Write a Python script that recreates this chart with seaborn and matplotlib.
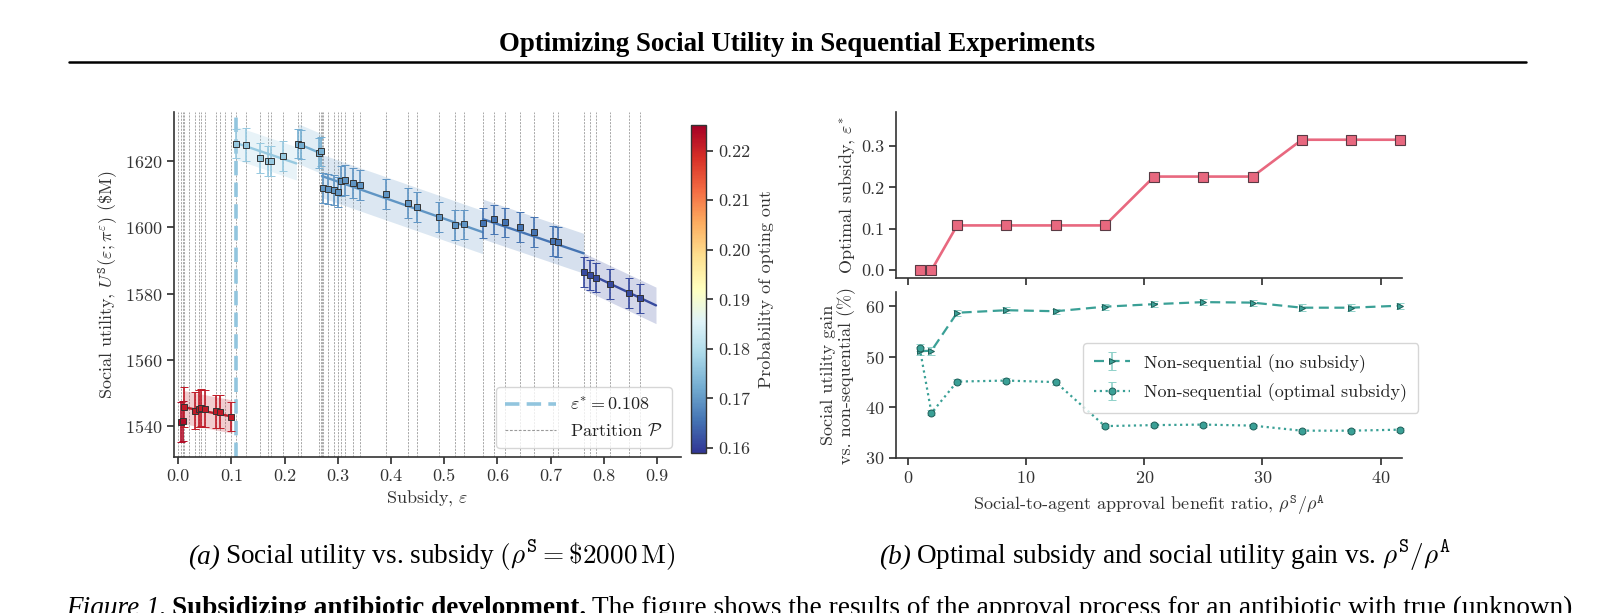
import numpy as np
import pandas as pd
import matplotlib
matplotlib.use("Agg")
import matplotlib.pyplot as plt
import seaborn as sns
from matplotlib.lines import Line2D
from matplotlib.colors import Normalize
from matplotlib.cm import ScalarMappable
from matplotlib.ticker import FormatStrFormatter

# ---------------- data: panel (a) ----------------
seg_x = [
    [0.0045, 0.0094],
    [0.011, 0.031, 0.039, 0.043, 0.051, 0.071, 0.078, 0.099],
    [0.108, 0.127, 0.153, 0.168, 0.174, 0.196],
    [0.226, 0.230, 0.265, 0.269],
    [0.273, 0.282, 0.292, 0.301, 0.306, 0.313, 0.328, 0.342, 0.391, 0.432, 0.448, 0.490, 0.521, 0.538],
    [0.573, 0.594, 0.615, 0.642, 0.668, 0.705, 0.714],
    [0.762, 0.774, 0.786, 0.811, 0.847, 0.868],
]
seg_y = [
    [1541.3, 1541.7],
    [1545.8, 1544.8, 1545.4, 1545.7, 1545.4, 1544.6, 1544.4, 1543.0],
    [1625.3, 1624.9, 1621.0, 1620.1, 1620.1, 1621.5],
    [1625.3, 1625.0, 1622.4, 1622.9],
    [1611.9, 1611.7, 1611.4, 1610.8, 1613.9, 1614.4, 1613.5, 1612.7, 1610.1, 1607.3, 1606.1, 1603.2, 1600.8, 1600.9],
    [1601.4, 1602.4, 1601.5, 1600.1, 1598.6, 1596.0, 1595.5],
    [1586.5, 1585.7, 1584.9, 1583.0, 1580.2, 1578.6],
]
seg_err = [
    [6.0, 6.0],
    [6.0, 5.5, 5.5, 5.5, 5.5, 5.0, 5.0, 4.5],
    [4.5, 5.0, 4.5, 4.5, 4.5, 4.5],
    [4.5, 4.5, 4.5, 4.5],
    [4.5, 4.5, 4.5, 4.5, 4.5, 4.5, 4.5, 4.5, 4.5, 4.5, 4.5, 4.5, 4.5, 4.5],
    [4.5, 4.5, 4.5, 4.5, 4.5, 4.5, 4.5],
    [4.5, 4.5, 4.5, 4.5, 4.5, 4.5],
]
seg_prob = [0.2235, 0.2215, 0.1765, 0.1725, 0.1695, 0.1655, 0.1612]
seg_line_x = [(0.0045, 0.0094), (0.011, 0.101), (0.108, 0.222), (0.226, 0.270),
              (0.270, 0.572), (0.573, 0.762), (0.762, 0.898)]
seg_line_y = [(1541.3, 1541.7), (1545.8, 1543.0), (1625.5, 1619.3), (1625.2, 1622.2),
              (1615.5, 1598.6), (1602.5, 1592.2), (1586.8, 1576.5)]
seg_band = [0.0, 5.0, 5.0, 6.0, 6.5, 6.0, 5.5]
extra_partitions = [0.0, 0.020, 0.087, 0.270]
eps_star = 0.108
prob_min, prob_max = 0.159, 0.2252

# ---------------- data: panel (b) ----------------
ratio = [1.0, 2.0, 4.17, 8.33, 12.5, 16.67, 20.83, 25.0, 29.17, 33.33, 37.5, 41.67]
opt_subsidy = [0.0, 0.0, 0.108, 0.108, 0.108, 0.108, 0.226, 0.226, 0.226, 0.315, 0.315, 0.315]
gain_nosub = [51.1, 51.2, 58.7, 59.2, 59.0, 59.9, 60.4, 60.8, 60.7, 59.7, 59.7, 60.1]
gain_nosub_err = [0.8, 0.8, 0.6, 0.6, 0.5, 0.6, 0.6, 0.6, 0.6, 0.7, 0.7, 0.6]
gain_optsub = [51.8, 38.9, 45.1, 45.3, 45.0, 36.3, 36.5, 36.6, 36.4, 35.4, 35.4, 35.6]
gain_optsub_err = [0.7, 0.5, 0.5, 0.5, 0.5, 0.4, 0.4, 0.4, 0.4, 0.4, 0.4, 0.4]

# ---------------- style ----------------
sns.set_theme(style="ticks")
plt.rcParams.update({
    "font.family": ["cmr10", "DejaVu Serif"],
    "mathtext.fontset": "cm",
    "axes.formatter.use_mathtext": True,
    "axes.unicode_minus": False,
    "font.size": 13,
    "axes.labelsize": 13,
    "xtick.labelsize": 13,
    "ytick.labelsize": 13,
    "legend.fontsize": 13,
    "axes.edgecolor": "#333333",
    "axes.linewidth": 1.2,
    "xtick.color": "#333333",
    "ytick.color": "#333333",
    "axes.labelcolor": "#333333",
    "text.color": "#222222",
    "xtick.major.size": 5,
    "ytick.major.size": 5,
})

W, H = 1603, 613
fig = plt.figure(figsize=(W / 100, H / 100), dpi=100)


def px_axes(x0, y0, x1, y1):
    return fig.add_axes([x0 / W, 1 - y1 / H, (x1 - x0) / W, (y1 - y0) / H])


ax = px_axes(174, 112, 681, 457)
cax = px_axes(691, 125, 706, 453)
ax_t = px_axes(896, 112, 1402, 278)
ax_b = px_axes(896, 292, 1402, 458)

cmap = plt.get_cmap("RdYlBu_r")
norm = Normalize(prob_min, prob_max)

# ---------------- panel (a) ----------------
all_x = sorted(set([v for s in seg_x for v in s] + extra_partitions))
for xv in all_x:
    ax.axvline(xv, color="#9a9a9a", lw=0.6, ls=(0, (2.5, 1.5)), zorder=0.5)

for xs, ys, es, p, lx, ly, hw in zip(seg_x, seg_y, seg_err, seg_prob, seg_line_x, seg_line_y, seg_band):
    c = cmap(norm(p))
    if hw > 0:
        lx_arr = np.array(lx)
        ly_arr = np.array(ly)
        ax.fill_between(lx_arr, ly_arr - hw, ly_arr + hw, color=c, alpha=0.22, lw=0, zorder=1)
    sns.lineplot(x=list(lx), y=list(ly), ax=ax, color=c, lw=1.7, zorder=2)
    ax.errorbar(xs, ys, yerr=es, fmt="s", ms=4.3, mfc=c, mec="#333333", mew=0.7,
                ecolor=c, elinewidth=1.2, capsize=3, capthick=1.0, zorder=3)

ax.axvline(eps_star, color="#92c5de", lw=2.6, ls=(0, (4, 2)), zorder=2.5)
ax.set_xlim(-0.008, 0.945)
ax.set_ylim(1530.8, 1634.8)
ax.set_xticks(np.arange(0, 0.91, 0.1))
ax.xaxis.set_major_formatter(FormatStrFormatter("%.1f"))
ax.set_yticks([1540, 1560, 1580, 1600, 1620])
sns.despine(ax=ax)
ax.set_xlabel(r"Subsidy, $\varepsilon$", labelpad=3)
ax.set_ylabel(r"Social utility, $U^{\mathtt{S}}(\varepsilon;\pi^{\varepsilon})$ ($\$$M)")
ax.yaxis.set_label_coords(-0.107, 0.5)
leg_handles = [
    Line2D([], [], color="#92c5de", lw=2.6, ls=(0, (4, 2))),
    Line2D([], [], color="#9a9a9a", lw=0.8, ls=(0, (2.5, 1.5))),
]
ax.legend(leg_handles, [r"$\varepsilon^{*} = 0.108$", r"Partition $\mathcal{P}$"],
          loc="lower right", handlelength=2.8, borderpad=0.5, labelspacing=0.5)

sm = ScalarMappable(norm=norm, cmap=cmap)
cb = fig.colorbar(sm, cax=cax, ticks=[0.16, 0.17, 0.18, 0.19, 0.20, 0.21, 0.22])
cb.ax.yaxis.set_major_formatter(FormatStrFormatter("%.2f"))
cb.outline.set_edgecolor("#333333")
cb.outline.set_linewidth(1.0)
cb.set_label("Probability of opting out")
cb.ax.yaxis.set_label_coords(4.5, 0.5)

# ---------------- panel (b) top ----------------
pink = "#e8687f"
df_t = pd.DataFrame({"ratio": ratio, "eps": opt_subsidy})
sns.lineplot(data=df_t, x="ratio", y="eps", ax=ax_t, color=pink, lw=1.9,
             marker="s", markersize=6.5, markerfacecolor=pink, markeredgecolor="#5a3a44",
             markeredgewidth=0.8, clip_on=False)
ax_t.set_xlim(-1.0, 41.8)
ax_t.set_ylim(-0.019, 0.382)
ax_t.set_xticks([0, 10, 20, 30, 40])
ax_t.tick_params(labelbottom=False)
ax_t.set_yticks([0.0, 0.1, 0.2, 0.3])
ax_t.yaxis.set_major_formatter(FormatStrFormatter("%.1f"))
ax_t.set_xlabel("")
ax_t.set_ylabel(r"Optimal subsidy, $\varepsilon^{*}$")
ax_t.yaxis.set_label_coords(-0.078, 0.5)
sns.despine(ax=ax_t)

# ---------------- panel (b) bottom ----------------
teal = "#3aa096"
ax_b.errorbar(ratio, gain_nosub, yerr=gain_nosub_err, fmt=">", ls=(0, (4.5, 2.5)), lw=1.6,
              color=teal, ms=5, mfc=teal, mec="#1f5e58", mew=0.7,
              ecolor="#8fd1c9", elinewidth=1.2, capsize=3, clip_on=False,
              label="Non-sequential (no subsidy)")
ax_b.errorbar(ratio, gain_optsub, yerr=gain_optsub_err, fmt="o", ls=(0, (1, 1.6)), lw=1.6,
              color=teal, ms=5, mfc=teal, mec="#1f5e58", mew=0.7,
              ecolor="#8fd1c9", elinewidth=1.2, capsize=3, clip_on=False,
              label="Non-sequential (optimal subsidy)")
ax_b.set_xlim(-1.0, 41.8)
ax_b.set_ylim(30, 62.8)
ax_b.set_xticks([0, 10, 20, 30, 40])
ax_b.set_yticks([30, 40, 50, 60])
ax_b.set_xlabel(r"Social-to-agent approval benefit ratio, $\rho^{\mathtt{S}}/\rho^{\mathtt{A}}$", labelpad=6)
ax_b.set_ylabel("Social utility gain\nvs. non-sequential (%)", linespacing=1.1)
ax_b.yaxis.set_label_coords(-0.079, 0.5)
sns.despine(ax=ax_b)
ax_b.legend(loc="upper left", bbox_to_anchor=(1083 / W, 1 - 343 / H),
            bbox_transform=fig.transFigure, borderaxespad=0, handlelength=2.0,
            borderpad=0.6, labelspacing=0.6)

# ---------------- page text ----------------
serif = ["Liberation Serif", "DejaVu Serif"]
fig.text(797 / W, 1 - 51 / H, "Optimizing Social Utility in Sequential Experiments",
         ha="center", va="baseline", family=serif, weight="bold", fontsize=19.4, color="black")
fig.add_artist(Line2D([69 / W, 1526 / W], [1 - 61.5 / H, 1 - 61.5 / H], color="black", lw=1.8))

renderer = fig.canvas.get_renderer()


def draw_runs(x_px, y_px, runs, center=False, gap=5.5):
    texts, widths = [], []
    for s, kw in runs:
        t = fig.text(0, 1 - y_px / H, s, va="baseline", ha="left", color="black", **kw)
        texts.append(t)
        widths.append(t.get_window_extent(renderer).width)
    total = sum(widths) + gap * (len(runs) - 1)
    start = x_px - total / 2 if center else x_px
    for t, w in zip(texts, widths):
        t.set_x(start / W)
        start += w + gap


cap_fs = 19.6
draw_runs(432, 564, [
    ("(a)", dict(family=serif, style="italic", fontsize=cap_fs)),
    (r"Social utility vs. subsidy $(\rho^{\mathtt{S}} = \$2000\,\mathrm{M})$",
     dict(family=serif, fontsize=cap_fs, math_fontfamily="cm")),
], center=True)
draw_runs(1165, 564, [
    ("(b)", dict(family=serif, style="italic", fontsize=cap_fs)),
    (r"Optimal subsidy and social utility gain vs. $\rho^{\mathtt{S}}/\rho^{\mathtt{A}}$",
     dict(family=serif, fontsize=cap_fs, math_fontfamily="cm")),
], center=True)
draw_runs(66, 615, [
    ("Figure 1.", dict(family=serif, style="italic", fontsize=cap_fs)),
    ("Subsidizing antibiotic development.", dict(family=serif, weight="bold", fontsize=cap_fs)),
    ("The figure shows the results of the approval process for an antibiotic with true (unknown)",
     dict(family=serif, fontsize=cap_fs)),
])

fig.savefig("out.png", dpi=100, facecolor="white")
